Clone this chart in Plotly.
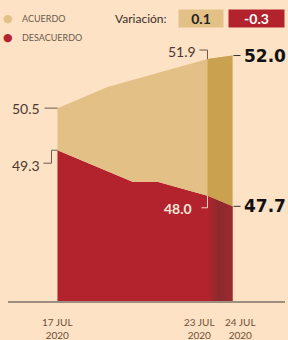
import plotly.graph_objects as go

# ---- data ----
dates = ["2020-07-17", "2020-07-18", "2020-07-19", "2020-07-20",
         "2020-07-21", "2020-07-22", "2020-07-23", "2020-07-24"]
acuerdo = [50.5, 50.8, 51.1, 51.3, 51.5, 51.7, 51.9, 52.0]
desacuerdo = [49.3, 49.0, 48.7, 48.4, 48.4, 48.2, 48.0, 47.7]
series_names = ["ACUERDO", "DESACUERDO"]
tick_dates = ["2020-07-17", "2020-07-23", "2020-07-24"]
tick_labels = ["17 JUL<br>2020", "23 JUL<br>2020", "24 JUL<br>2020"]

BG = "#FDE2C5"
TAN = "#E3C186"
TAN_DARK = "#C9A14F"
RED = "#B3232D"
RED_DARK = "#8C2A2E"
TXT = "#4A3A30"
FONT = "Lato"

fig = go.Figure()

# full stacked areas (17 -> 24 JUL)
fig.add_trace(go.Scatter(x=dates, y=desacuerdo, mode="lines", name=series_names[1],
                         line=dict(width=0, color=RED), fill="tozeroy",
                         fillcolor=RED, showlegend=False, hoverinfo="skip"))
fig.add_trace(go.Scatter(x=dates, y=acuerdo, mode="lines", name=series_names[0],
                         line=dict(width=0, color=TAN), fill="tonexty",
                         fillcolor=TAN, showlegend=False, hoverinfo="skip"))
# last segment (23 -> 24 JUL) overlaid darker
fig.add_trace(go.Scatter(x=dates[-2:], y=desacuerdo[-2:], mode="lines", name=series_names[1],
                         line=dict(width=0, color=RED_DARK), fill="tozeroy",
                         fillgradient=dict(type="horizontal",
                                           colorscale=[[0, RED], [0.45, RED_DARK], [1, "#9A2A2F"]]),
                         showlegend=False, hoverinfo="skip"))
fig.add_trace(go.Scatter(x=dates[-2:], y=acuerdo[-2:], mode="lines", name=series_names[0],
                         line=dict(width=0, color=TAN_DARK), fill="tonexty",
                         fillcolor=TAN_DARK, showlegend=False, hoverinfo="skip"))

annotations = []
shapes = []

def label(xi, yv, text, xanchor, xshift, yshift, size, color, bold=False, family=FONT):
    annotations.append(dict(x=xi, y=yv, xref="x", yref="y", text=(f"<b>{text}</b>" if bold else text),
                            showarrow=False, xanchor=xanchor, yanchor="middle",
                            xshift=xshift, yshift=yshift,
                            font=dict(family=family, size=size, color=color)))

def bracket(xi, yv, path, color):
    shapes.append(dict(type="path", xref="x", yref="y", xsizemode="pixel", ysizemode="pixel",
                       xanchor=xi, yanchor=yv, path=path,
                       line=dict(color=color, width=1)))

# start labels
label(dates[0], acuerdo[0], f"{acuerdo[0]:.1f}", "right", -15, 0, 14, TXT)
bracket(dates[0], acuerdo[0], "M0,0 L-13,0", "#6B5A4E")
label(dates[0], desacuerdo[0], f"{desacuerdo[0]:.1f}", "right", -15, -15, 14, TXT)
bracket(dates[0], desacuerdo[0], "M0,0 L-6,0 L-6,-13 L-14,-13", "#6B5A4E")
# 23 JUL labels
label(dates[-2], acuerdo[-2], f"{acuerdo[-2]:.1f}", "right", -9, 8, 14, TXT)
bracket(dates[-2], acuerdo[-2], "M0,0 L0,9 L-8,9", "#6B5A4E")
label(dates[-2], desacuerdo[-2], f"{desacuerdo[-2]:.1f}", "right", -13, -13, 14, "#F6E6DA", bold=True)
bracket(dates[-2], desacuerdo[-2], "M0,0 L0,-12 L-6,-12", "#EED8C8")
# 24 JUL labels
label(dates[-1], acuerdo[-1], f"{acuerdo[-1]:.1f}", "left", 9, 0, 17, "#111111", bold=True,
      family="DejaVu Sans")
bracket(dates[-1], acuerdo[-1], "M1,0 L8,0", "#333333")
label(dates[-1], desacuerdo[-1], f"{desacuerdo[-1]:.1f}", "left", 9, 0, 17, "#111111", bold=True,
      family="DejaVu Sans")
bracket(dates[-1], desacuerdo[-1], "M1,0 L8,0", "#333333")

# x tick labels
tick_shift = [0, -8, 8]
for d, t, s in zip(tick_dates, tick_labels, tick_shift):
    annotations.append(dict(x=d, y=0, xref="x", yref="paper", text=t, showarrow=False,
                            xanchor="center", yanchor="top", xshift=s, yshift=-13,
                            font=dict(family=FONT, size=10, color="#6E5138")))

# legend (bullets + names), placed in pixels from the plot's top-left
for i, (nm, col) in enumerate(zip(series_names, [TAN, RED])):
    annotations.append(dict(x=0, y=1, xref="paper", yref="paper", text="●", showarrow=False,
                            xanchor="center", yanchor="middle", xshift=0, yshift=20 - 19 * i,
                            font=dict(family="DejaVu Sans", size=11, color=col)))
    annotations.append(dict(x=0, y=1, xref="paper", yref="paper", text=nm, showarrow=False,
                            xanchor="left", yanchor="middle", xshift=12, yshift=20 - 19 * i,
                            font=dict(family=FONT, size=9, color="#6B5A4E")))

# header: Variación with boxes
var_a = acuerdo[-1] - acuerdo[-2]
var_d = desacuerdo[-1] - desacuerdo[-2]
annotations.append(dict(x=0, y=1, xref="paper", yref="paper", text="Variación:",
                        showarrow=False, xanchor="left", yanchor="middle",
                        xshift=105, yshift=20,
                        font=dict(family=FONT, size=12, color="#3A2E28")))
annotations.append(dict(x=0, y=1, xref="paper", yref="paper", text=f"<b>{var_a:.1f}</b>",
                        showarrow=False, xanchor="left", yanchor="middle",
                        xshift=170, yshift=20, width=44, height=17, bgcolor=TAN, borderpad=0,
                        font=dict(family=FONT, size=14, color="#222222")))
annotations.append(dict(x=0, y=1, xref="paper", yref="paper", text=f"<b>{var_d:.1f}</b>",
                        showarrow=False, xanchor="left", yanchor="middle",
                        xshift=220, yshift=20, width=55, height=17, bgcolor=RED, borderpad=0,
                        font=dict(family=FONT, size=14, color="#FFFFFF")))

fig.update_layout(
    width=288, height=340,
    margin=dict(l=8, r=3, t=38, b=39),
    paper_bgcolor=BG, plot_bgcolor=BG,
    showlegend=False,
    xaxis=dict(type="date", range=["2020-07-15 00:30", "2020-07-26 02:24"],
               showgrid=False, zeroline=False, showticklabels=False, ticks="",
               showline=True, linecolor="#9E8E80", linewidth=1.5),
    yaxis=dict(range=[45, 52.5], showgrid=False, zeroline=False, visible=False),
    annotations=annotations, shapes=shapes,
)

fig.write_html("out.html", config={"displayModeBar": False},
               post_script="document.body.style.margin='0';document.body.style.background='" + BG + "';")
